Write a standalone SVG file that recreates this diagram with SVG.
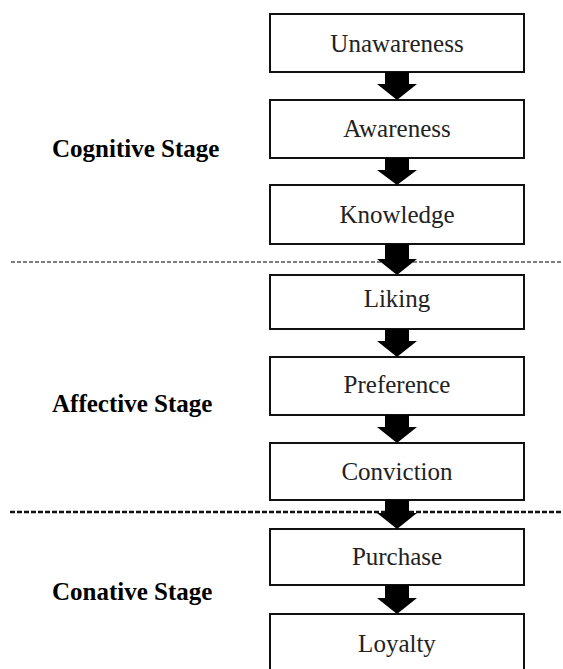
<svg xmlns="http://www.w3.org/2000/svg" width="563" height="669" viewBox="0 0 563 669">
<style>
.box{fill:#fff;stroke:#111;stroke-width:2}
.lbl{font-family:"Liberation Serif","Times New Roman",serif;font-size:25px;fill:#222;text-anchor:middle}
.stage{font-family:"Liberation Serif","Times New Roman",serif;font-size:25px;font-weight:bold;fill:#000}
.arr{fill:#000}
</style>
<rect width="563" height="669" fill="#fff"/>
<g id="dividers">
<line x1="11" y1="262" x2="563" y2="262" stroke="#555" stroke-width="1.4" stroke-dasharray="4 2"/>
<line x1="10" y1="512" x2="563" y2="512" stroke="#111" stroke-width="2.4" stroke-dasharray="5 2"/>
</g>
<g id="stages">
<text class="stage" x="52" y="157">Cognitive Stage</text>
<text class="stage" x="52" y="412">Affective Stage</text>
<text class="stage" x="52" y="600">Conative Stage</text>
</g>
<g id="node-unawareness"><rect class="box" x="270" y="14" width="254" height="58"/><text class="lbl" x="397" y="52">Unawareness</text></g>
<g id="node-awareness"><rect class="box" x="270" y="100" width="254" height="58"/><text class="lbl" x="397" y="137">Awareness</text></g>
<g id="node-knowledge"><rect class="box" x="270" y="185" width="254" height="59"/><text class="lbl" x="397" y="223">Knowledge</text></g>
<g id="node-liking"><rect class="box" x="270" y="275" width="254" height="54"/><text class="lbl" x="397" y="307">Liking</text></g>
<g id="node-preference"><rect class="box" x="270" y="357" width="254" height="58"/><text class="lbl" x="397" y="393">Preference</text></g>
<g id="node-conviction"><rect class="box" x="270" y="443" width="254" height="57"/><text class="lbl" x="397" y="480">Conviction</text></g>
<g id="node-purchase"><rect class="box" x="270" y="529" width="254" height="56"/><text class="lbl" x="397" y="565">Purchase</text></g>
<g id="node-loyalty"><rect class="box" x="270" y="614" width="254" height="60"/><text class="lbl" x="397" y="652">Loyalty</text></g>
<g id="connectors">
<polygon class="arr" points="385,72 409,72 409,84 417,84 397,100 377,84 385,84"/>
<polygon class="arr" points="385,158 409,158 409,170 417,170 397,185 377,170 385,170"/>
<polygon class="arr" points="385,244 409,244 409,259 417,259 397,275 377,259 385,259"/>
<polygon class="arr" points="385,329 409,329 409,341 417,341 397,357 377,341 385,341"/>
<polygon class="arr" points="385,415 409,415 409,427 417,427 397,443 377,427 385,427"/>
<polygon class="arr" points="385,500 409,500 409,513 417,513 397,529 377,513 385,513"/>
<polygon class="arr" points="385,585 409,585 409,598 417,598 397,614 377,598 385,598"/>
</g>
</svg>
